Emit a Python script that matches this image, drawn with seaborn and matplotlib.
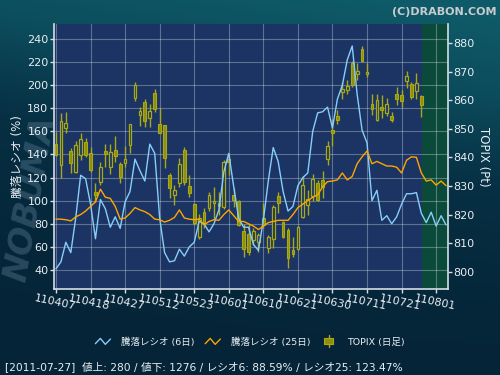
import numpy as np
import pandas as pd
import matplotlib
matplotlib.use("Agg")
import matplotlib.pyplot as plt
import seaborn as sns
from matplotlib.legend_handler import HandlerBase
from matplotlib.lines import Line2D
from matplotlib.patches import Rectangle
from matplotlib.colors import LinearSegmentedColormap

# ---------------- data ----------------
tick_labels = ["110407", "110418", "110427", "110512", "110523", "110601",
               "110610", "110621", "110630", "110711", "110721", "110801"]
tick_step = 7

ratio6 = [41, 47, 64, 55, 85, 122, 119, 97, 67, 101,
          93, 77, 86, 76, 99, 108, 136, 126, 117, 149,
          141, 85, 55, 47, 48, 58, 52, 60, 64, 82,
          80, 73, 80, 92, 125, 141, 112, 85, 77, 77,
          62, 57, 83, 117, 146, 134, 108, 91, 95, 113,
          120, 124, 160, 176, 177, 181, 163, 188, 200, 222,
          234, 192, 161, 150, 100, 109, 83, 87, 80, 86,
          97, 106, 106, 107, 89, 81, 90, 78, 87, 79]

ratio25 = [84, 84, 83.5, 82.5, 86, 88, 91, 95, 99, 110,
           103, 102, 95, 84, 85, 89, 94, 92, 90.5, 88,
           84, 83.5, 81.5, 83, 85.5, 92, 85, 84, 83.5, 84,
           79, 82, 83.5, 83, 88, 92, 87, 82, 82, 80,
           78, 75, 78, 81, 82, 83, 83, 83, 88, 94,
           97, 100, 103, 105, 112, 116.5, 117, 118, 124, 118,
           121, 132, 138, 143, 132, 134, 132, 130, 130, 129,
           124, 135, 138, 137.5, 124, 117, 118, 113.5, 117, 113]

topix_open = [844.7, 837.3, 850.3, 842.1, 834.9, 840.7, 845.4, 841.5, 828.0, 831.5,
              842.1, 836.6, 842.6, 837.7, 837.9, 844.2, 860.9, 854.7, 859.4, 853.9,
              862.5, 851.6, 851.3, 833.9, 826.9, 830.9, 842.6, 830.0, 823.7, 812.3,
              820.9, 822.2, 824.2, 823.0, 822.5, 839.3, 826.9, 824.8, 814.1, 813.2,
              811.1, 810.4, 818.7, 808.3, 811.5, 826.5, 817.4, 814.6, 807.6, 808.0,
              819.2, 823.2, 826.5, 830.9, 832.1, 839.6, 849.6, 854.5, 862.9, 863.7,
              872.8, 869.3, 877.8, 869.0, 858.8, 853.0, 857.6, 855.6, 854.5, 862.3,
              861.7, 866.6, 865.8, 863.1, 861.5]
topix_close = [840.8, 852.7, 852.0, 838.2, 844.2, 846.3, 840.8, 835.6, 826.9, 836.8,
               841.3, 841.9, 840.5, 833.3, 839.4, 851.6, 865.2, 856.1, 852.8, 856.1,
               857.0, 848.5, 839.7, 829.2, 828.6, 837.6, 831.4, 827.4, 817.0, 818.7,
               817.1, 826.9, 824.8, 824.1, 838.5, 838.5, 825.1, 816.4, 808.0, 806.9,
               814.4, 812.9, 816.4, 812.3, 822.7, 824.2, 812.0, 804.9, 806.2, 815.7,
               830.3, 825.5, 832.4, 825.1, 829.5, 843.8, 848.4, 853.0, 864.0, 865.0,
               865.2, 870.2, 873.5, 869.9, 856.8, 860.0, 856.4, 858.8, 853.2, 860.3,
               859.6, 868.5, 861.1, 866.0, 858.4]
topix_high = [848.9, 855.6, 855.9, 843.3, 845.7, 848.5, 846.8, 843.7, 831.2, 838.5,
              844.7, 844.7, 847.5, 838.5, 844.0, 851.7, 866.4, 857.5, 860.3, 858.8,
              864.0, 857.3, 851.4, 834.4, 830.4, 839.7, 843.6, 833.8, 824.1, 820.2,
              822.3, 828.0, 829.8, 827.9, 839.1, 840.8, 829.2, 825.1, 816.7, 816.6,
              815.2, 813.5, 824.0, 812.9, 823.4, 828.0, 817.8, 815.2, 812.3, 816.0,
              833.5, 828.6, 834.1, 832.1, 835.4, 845.8, 853.5, 856.5, 866.4, 867.0,
              873.5, 872.8, 879.0, 872.8, 862.3, 862.3, 861.7, 860.7, 855.9, 864.6,
              863.6, 870.2, 866.5, 869.5, 861.7]
topix_low = [840.5, 832.8, 848.5, 834.7, 834.7, 839.1, 840.1, 834.9, 824.5, 830.3,
             836.8, 834.2, 838.5, 830.9, 836.6, 841.6, 859.7, 850.9, 850.6, 850.6,
             855.9, 848.4, 836.2, 825.7, 823.4, 829.7, 830.3, 826.3, 816.4, 811.5,
             815.3, 821.3, 818.5, 819.9, 822.0, 833.8, 822.8, 816.0, 805.3, 805.9,
             809.4, 806.9, 815.2, 806.6, 808.3, 820.6, 811.8, 801.4, 805.3, 807.6,
             818.8, 819.9, 824.8, 824.8, 825.8, 837.3, 844.0, 851.8, 860.5, 862.3,
             864.7, 867.1, 873.2, 868.1, 854.9, 852.6, 853.6, 854.5, 852.4, 858.3,
             857.7, 864.4, 860.3, 860.3, 854.1]

left_ticks = [40, 60, 80, 100, 120, 140, 160, 180, 200, 220, 240]
right_ticks = [800, 810, 820, 830, 840, 850, 860, 870, 880]

info_text = "[2011-07-27]  値上: 280 / 値下: 1276 / レシオ6: 88.59% / レシオ25: 123.47%"

# ---------------- style ----------------
sns.set_theme(style="dark")
plt.rcParams["font.family"] = ["DejaVu Sans", "Noto Sans CJK JP"]

TXT = "#e8eef2"
SPINE = "#d4dee6"
NAVY = "#1b3463"
GREEN = "#0b4a3b"
OLIVE_F = "#8f8f0c"
OLIVE_E = "#a9a916"
BLUE = "#87cefa"
ORANGE = "#ffa500"

fig = plt.figure(figsize=(5.0, 3.75), dpi=100)

# background gradient
bg = fig.add_axes([0, 0, 1, 1], zorder=-10)
bg.set_axis_off()
yy, xx = np.mgrid[0:1:200j, 0:1:200j]
val = np.clip(0.75 * yy ** 2.2 + 0.35 * xx * yy, 0, 1)
cmap = LinearSegmentedColormap.from_list("bgc", ["#052437", "#073044", "#0c4d5d", "#0f5a68"])
bg.imshow(val, cmap=cmap, aspect="auto", origin="lower", extent=[0, 1, 0, 1])
bg.text(0.062, 0.47, "NOBUMA", rotation=80, fontsize=24, fontweight="bold",
        fontstyle="italic", color="#6a8ca4", alpha=0.35, ha="center", va="center",
        transform=bg.transAxes)

rect = [0.108, 0.2293, 0.788, 0.7067]
ax = fig.add_axes(rect)
ax.set_facecolor(NAVY)
ax_p = ax.twinx()
ax_l = ax.twinx()

n_line = len(ratio6)
n_c = len(topix_open)
xi = np.arange(n_line)
xc = np.arange(n_c)

ax.set_xlim(-0.4, 79.4)
ax.set_ylim(23.5, 253)
ax_l.set_ylim(23.5, 253)
ax_p.set_ylim(794, 886.6)

# green future zone
ax.axvspan(n_c - 1 + 0.1, 79.4, color=GREEN, zorder=0.1, lw=0)

# grid
ax.set_axisbelow(True)
ax.grid(True, color="#ffffff", alpha=0.30, lw=0.8, ls="-")
ax.set_yticks(left_ticks)
ax.set_xticks(np.arange(len(tick_labels)) * tick_step)
ax.set_xticklabels(tick_labels, rotation=-12, ha="center", rotation_mode="anchor")

# candles
o = np.array(topix_open); c = np.array(topix_close)
h = np.array(topix_high); l = np.array(topix_low)
top = np.maximum(o, c); bot = np.minimum(o, c)
up = c >= o
ax_p.vlines(xc, top, h, color=OLIVE_E, lw=1.0, zorder=2)
ax_p.vlines(xc, l, bot, color=OLIVE_E, lw=1.0, zorder=2)
ax_p.bar(xc[~up], (top - bot)[~up], bottom=bot[~up], width=0.55,
         color=OLIVE_F, edgecolor=OLIVE_E, lw=0.8, zorder=3)
ax_p.bar(xc[up], np.maximum((top - bot)[up], 0.3), bottom=bot[up], width=0.55,
         color=NAVY, edgecolor=OLIVE_E, lw=0.9, zorder=3)
ax_p.set_yticks(right_ticks)

# ratio lines (seaborn)
df = pd.DataFrame({"idx": xi, "r6": ratio6, "r25": ratio25})
sns.lineplot(data=df, x="idx", y="r6", ax=ax_l, color=BLUE, lw=1.0)
sns.lineplot(data=df, x="idx", y="r25", ax=ax_l, color=ORANGE, lw=1.0)
ax_l.set_xlim(-0.4, 79.4)
ax_l.set_ylabel("")
ax_l.set_xlabel("")
ax_l.yaxis.set_visible(False)
ax_l.patch.set_visible(False)
ax_p.patch.set_visible(False)

for a in (ax, ax_p, ax_l):
    for s in a.spines.values():
        s.set_visible(False)
ax.spines["left"].set_visible(True)
ax.spines["bottom"].set_visible(True)
ax_p.spines["right"].set_visible(True)
for s in (ax.spines["left"], ax.spines["bottom"], ax_p.spines["right"]):
    s.set_color(SPINE)
    s.set_linewidth(1.2)

ax.tick_params(axis="y", colors=SPINE, labelcolor=TXT, labelsize=8, length=3, width=1, left=True, pad=1)
ax.tick_params(axis="x", colors=SPINE, labelcolor=TXT, labelsize=8, length=3, width=1, bottom=True, pad=3)
ax_p.tick_params(axis="y", colors=SPINE, labelcolor=TXT, labelsize=8, length=3, width=1, right=True, pad=1)
ax_l.tick_params(axis="x", bottom=False, labelbottom=False)
ax_p.tick_params(axis="x", bottom=False, labelbottom=False)

ax.set_ylabel("騰落レシオ (%)", color=TXT, fontsize=8.5, labelpad=2)
ax.set_xlabel("")
ax_p.set_ylabel("TOPIX (Pt)", color=TXT, fontsize=8.5, rotation=270, labelpad=11)


# ---------------- legend ----------------
class ZigHandler(HandlerBase):
    def create_artists(self, legend, orig_handle, xdescent, ydescent, width, height, fontsize, trans):
        xs = np.array([0.0, 0.33, 0.66, 1.0]) * width - xdescent
        ys = np.array([0.15, 0.95, 0.05, 0.85]) * height - ydescent
        return [Line2D(xs, ys, color=orig_handle.get_color(), lw=1.0, transform=trans)]


class CandleHandler(HandlerBase):
    def create_artists(self, legend, orig_handle, xdescent, ydescent, width, height, fontsize, trans):
        cx = width / 2 - xdescent
        wick = Line2D([cx, cx], [-0.4 * height - ydescent, 1.4 * height - ydescent],
                      color=OLIVE_E, lw=1.0, transform=trans)
        body = Rectangle((cx - 3, 0.05 * height - ydescent), 6, 0.9 * height,
                         facecolor=OLIVE_F, edgecolor=OLIVE_E, lw=0.8, transform=trans)
        return [wick, body]


h1 = Line2D([], [], color=BLUE)
h2 = Line2D([], [], color=ORANGE)
h3 = Rectangle((0, 0), 1, 1)
leg = fig.legend([h1, h2, h3], ["騰落レシオ (6日)", "騰落レシオ (25日)", "TOPIX (日足)"],
                 handler_map={h1: ZigHandler(), h2: ZigHandler(), h3: CandleHandler()},
                 loc="center", bbox_to_anchor=(0.5, 0.088), ncol=3, frameon=False,
                 fontsize=6.8, labelcolor=TXT, handlelength=1.6, handletextpad=1.15,
                 columnspacing=1.1)

fig.text(0.01, 0.022, info_text, color=TXT, fontsize=7.7, ha="left", va="center")
fig.text(0.993, 0.982, "(C)DRABON.COM", color="#c8ccd0", fontsize=8, fontweight="bold",
         ha="right", va="top")

fig.savefig("out.png", dpi=100)
